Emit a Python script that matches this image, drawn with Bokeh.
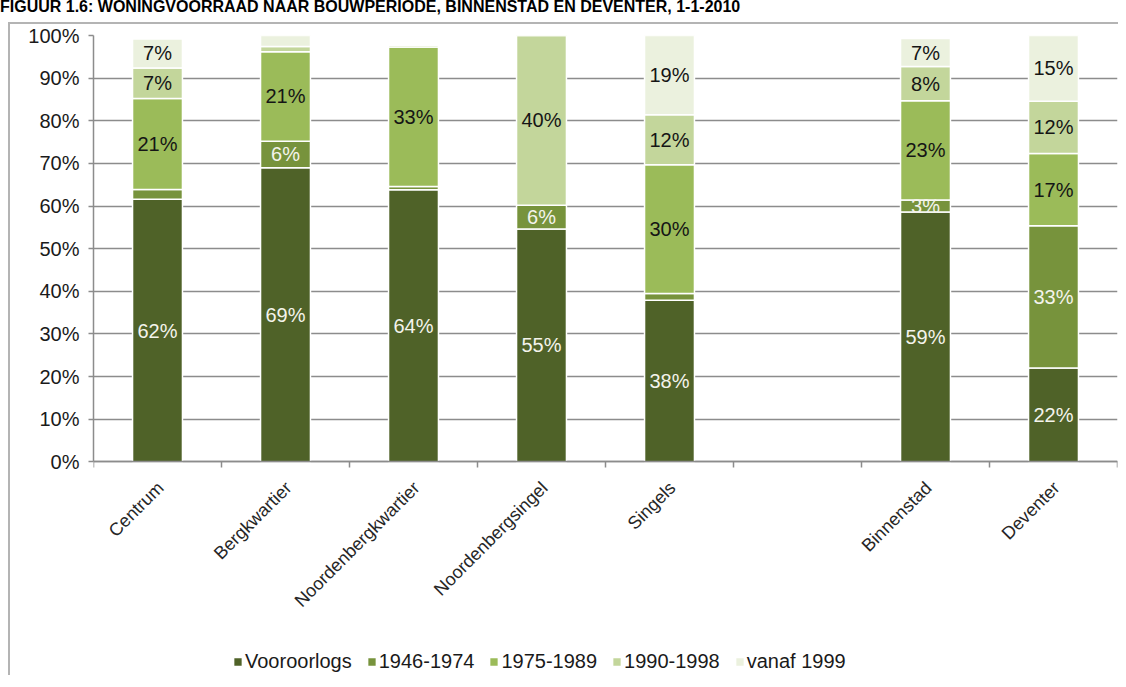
from math import pi
from bokeh.plotting import figure
from bokeh.layouts import column
from bokeh.models import (ColumnDataSource, FixedTicker, Legend, LegendItem, LabelSet,
                          Div, PrintfTickFormatter, Range1d)
from bokeh.embed import file_html
from bokeh.resources import INLINE
from bokeh.core.properties import value

title = "FIGUUR 1.6: WONINGVOORRAAD NAAR BOUWPERIODE, BINNENSTAD EN DEVENTER, 1-1-2010"
categories = ["Centrum", "Bergkwartier", "Noordenbergkwartier", "Noordenbergsingel",
              "Singels", "Binnenstad", "Deventer"]
gap_before = "Binnenstad"
periods = ["Vooroorlogs", "1946-1974", "1975-1989", "1990-1998", "vanaf 1999"]
vooroorlogs = [61.6, 69.0, 63.8, 54.6, 37.9, 58.6, 22.0]
p1946_1974 = [2.3, 6.2, 0.8, 5.6, 1.6, 2.8, 33.4]
p1975_1989 = [21.3, 21.0, 32.7, 0.0, 30.2, 23.3, 16.9]
p1990_1998 = [7.2, 1.2, 0.4, 39.8, 11.7, 8.0, 12.3]
vanaf_1999 = [6.8, 2.6, 0.3, 0.0, 18.6, 6.6, 15.4]
y_ticks = [0, 10, 20, 30, 40, 50, 60, 70, 80, 90, 100]

series = [vooroorlogs, p1946_1974, p1975_1989, p1990_1998, vanaf_1999]
colors = ["#4f6228", "#77933c", "#9bbb59", "#c3d69b", "#ebf1de"]
label_colors = ["#f4f4ec", "#f4f4ec", "#151515", "#151515", "#151515"]
FONT = "Liberation Sans"
GRID = "#8c8c8c"

# layout: 100% spans 425 px; the frame continues below 0 to hold labels and legend
PX_PER_PCT = 4.25
FRAME_H = 640
y_bottom = 100 - FRAME_H / PX_PER_PCT

# slot positions (one empty slot before gap_before)
gi = categories.index(gap_before)
xs = [i + (1 if i >= gi else 0) + 0.5 for i in range(len(categories))]
n_slots = len(categories) + 1

data = {"x": xs}
for name, vals in zip(periods, series):
    data[name] = vals
cum = [0.0] * len(categories)
for k, vals in enumerate(series):
    data[f"mid{k}"] = [c + v / 2 for c, v in zip(cum, vals)]
    data[f"lab{k}"] = [f"{round(v)}%" if v >= 2.7 else "" for v in vals]
    cum = [c + v for c, v in zip(cum, vals)]
source = ColumnDataSource(data)
cat_source = ColumnDataSource({"x": xs, "name": categories})

p = figure(frame_width=1022, frame_height=FRAME_H, output_backend="svg", toolbar_location=None,
           x_range=Range1d(0, n_slots), y_range=Range1d(y_bottom, 100),
           min_border_left=83, min_border_right=3, min_border_top=11, min_border_bottom=0,
           outline_line_color=None, margin=(0, 0, 0, 8))
p.styles = {"border-left": "2px solid #b4b4b4", "border-top": "2px solid #b4b4b4"}

renderers = p.vbar_stack(periods, x="x", width=0.39, color=colors, source=source,
                         line_color="white", line_width=1.5)

for k in range(len(periods)):
    p.add_layout(LabelSet(x="x", y=f"mid{k}", text=f"lab{k}", source=source,
                          text_align="center", text_baseline="middle",
                          text_font=value(FONT), text_font_size="20px",
                          text_color=label_colors[k]))

# category labels (rotated), hanging below the 0 line
p.add_layout(LabelSet(x="x", y=0, text="name", source=cat_source, angle=pi / 4,
                      text_align="right", text_baseline="middle", x_offset=3, y_offset=-23,
                      text_font=value(FONT), text_font_size="18px", text_color="#262626"))

# x axis drawn at 0, ticks between categories
p.xaxis.fixed_location = 0
p.xaxis.ticker = FixedTicker(ticks=[], minor_ticks=list(range(n_slots + 1)))
p.xaxis.major_label_text_font_size = "0px"
p.xaxis.major_label_standoff = 0
p.xaxis.major_tick_out = 0
p.xaxis.major_tick_in = 0
p.xaxis.minor_tick_out = 6
p.xaxis.minor_tick_in = 0
p.xaxis.minor_tick_line_color = GRID
p.xaxis.minor_tick_line_width = 1.5
p.xaxis.axis_line_color = GRID
p.xaxis.axis_line_width = 1.5

p.yaxis.bounds = (0, 100)
p.yaxis.ticker = FixedTicker(ticks=y_ticks)
p.yaxis.formatter = PrintfTickFormatter(format="%d%%")
p.yaxis.major_tick_out = 5
p.yaxis.major_tick_in = 0
p.yaxis.minor_tick_line_color = None
p.yaxis.major_tick_line_color = GRID
p.yaxis.major_tick_line_width = 1.5
p.yaxis.axis_line_color = GRID
p.yaxis.axis_line_width = 1.5
p.yaxis.major_label_text_font = FONT
p.yaxis.major_label_text_font_size = "20px"
p.yaxis.major_label_text_color = "#1a1a1a"
p.yaxis.major_label_standoff = 9

p.xgrid.grid_line_color = None
p.ygrid.grid_line_color = GRID
p.ygrid.grid_line_width = 1.5

legend = Legend(items=[LegendItem(label=value(n), renderers=[r])
                       for n, r in zip(periods, renderers)],
                orientation="horizontal", location=(139, 4),
                label_text_font=FONT, label_text_font_size="20px", label_text_color="#1a1a1a",
                glyph_width=11, glyph_height=11, label_standoff=2, spacing=14,
                background_fill_alpha=0, border_line_color=None, padding=0, margin=0)
p.add_layout(legend, "center")

header = Div(text=title, width=1110, height=22, margin=(0, 0, 0, 0),
             styles={"font-family": FONT, "font-weight": "bold", "font-size": "16px",
                     "line-height": "13px", "color": "#000000", "white-space": "nowrap"})

layout = column(header, p, spacing=0)
open("out.html", "w").write(file_html(layout, INLINE))
